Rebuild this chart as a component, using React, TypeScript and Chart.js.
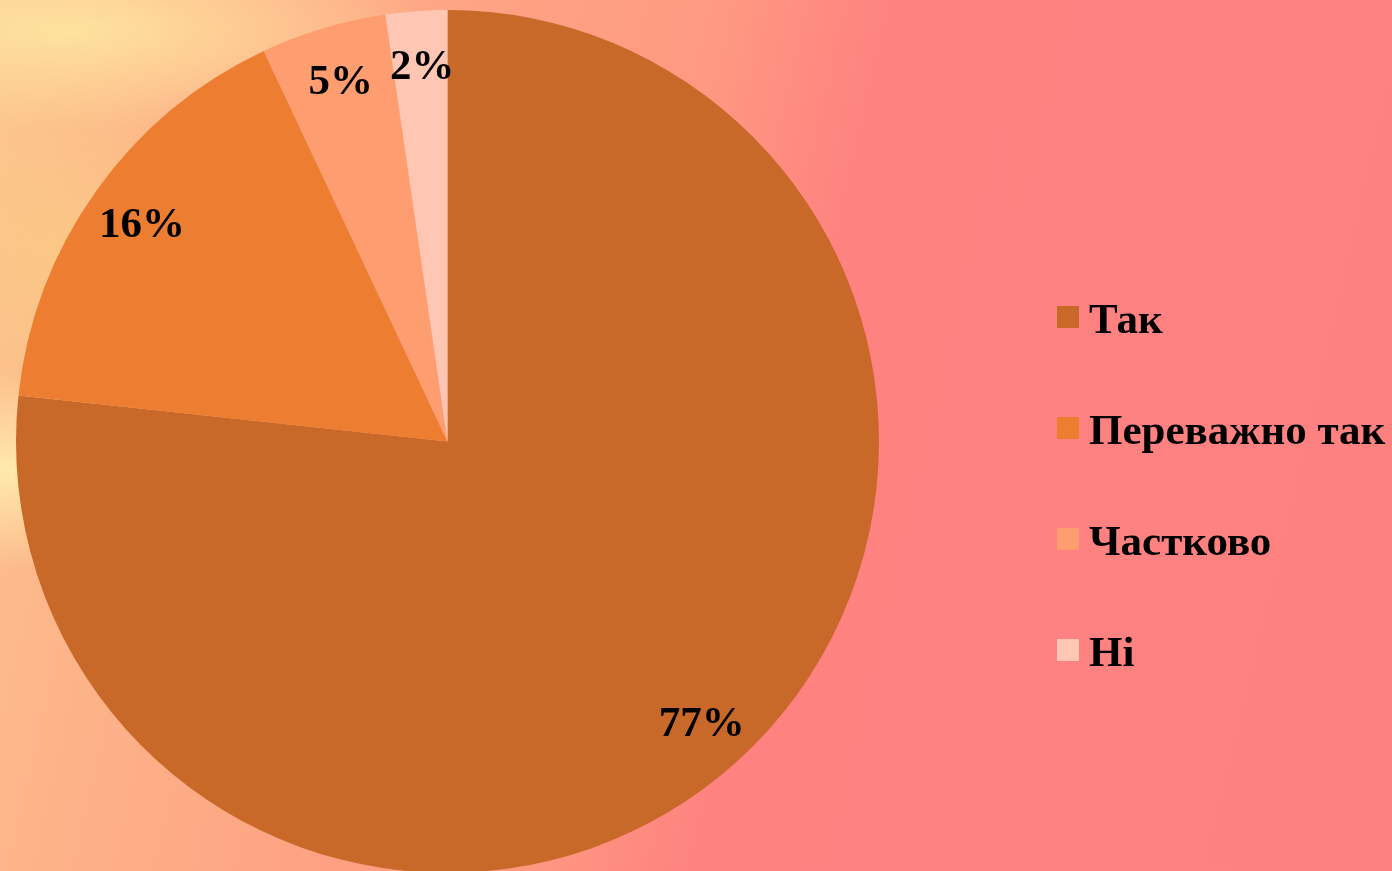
import React, { useEffect, useRef } from "react";
import { Chart, registerables } from "chart.js";

Chart.register(...registerables);

const categories: string[] = ["Так", "Переважно так", "Частково", "Ні"];
const values: number[] = [76.7, 16.3, 4.7, 2.3];
const sliceColors: string[] = ["#C8692A", "#ED7D31", "#FE9E70", "#FFC6B4"];

const FONT = "bold 43px 'Liberation Serif', 'Times New Roman', serif";

const labelPlugin = {
  id: "sliceLabels",
  afterDatasetsDraw(chart: any) {
    const ctx = chart.ctx;
    const meta = chart.getDatasetMeta(0);
    const data = chart.data.datasets[0].data as number[];
    const total = data.reduce((a: number, b: number) => a + b, 0);
    ctx.save();
    ctx.font = FONT;
    ctx.fillStyle = "#000";
    ctx.textAlign = "center";
    ctx.textBaseline = "middle";
    meta.data.forEach((arc: any, i: number) => {
      const p = arc.getProps(["x", "y", "startAngle", "endAngle", "outerRadius"], true);
      const mid = (p.startAngle + p.endAngle) / 2;
      const r = p.outerRadius * 0.875;
      const x = p.x + Math.cos(mid) * r;
      const y = p.y + Math.sin(mid) * r;
      const pct = Math.round((data[i] / total) * 100) + "%";
      ctx.fillText(pct, x + 2, y + 3);
    });
    ctx.restore();
  },
};

const legendPlugin = {
  id: "sideLegend",
  afterDraw(chart: any) {
    const ctx = chart.ctx;
    const labels = chart.data.labels as string[];
    const colors = chart.data.datasets[0].backgroundColor as string[];
    const x0 = 1057;
    const y0 = 317;
    const step = 111;
    ctx.save();
    ctx.font = FONT;
    ctx.textAlign = "left";
    ctx.textBaseline = "alphabetic";
    labels.forEach((lab, i) => {
      const cy = y0 + i * step;
      ctx.fillStyle = colors[i];
      ctx.fillRect(x0, cy - 11, 22, 22);
      ctx.fillStyle = "#000";
      ctx.fillText(lab, x0 + 32, cy + 16);
    });
    ctx.restore();
  },
};

export default function App() {
  const ref = useRef<HTMLCanvasElement | null>(null);

  useEffect(() => {
    if (!ref.current) return;
    const chart = new Chart(ref.current, {
      type: "pie",
      data: {
        labels: categories,
        datasets: [
          {
            data: values,
            backgroundColor: sliceColors,
            borderWidth: 0,
          },
        ],
      },
      options: {
        animation: false,
        responsive: false,
        maintainAspectRatio: false,
        layout: { padding: { left: 16, top: 10, right: 513, bottom: 7 } },
        plugins: {
          legend: { display: false },
          tooltip: { enabled: false },
        },
      },
      plugins: [labelPlugin, legendPlugin],
    });
    return () => chart.destroy();
  }, []);

  return (
    <div
      style={{
        position: "fixed",
        left: 0,
        top: 0,
        width: 1392,
        height: 871,
        overflow: "hidden",
        background: [
          "radial-gradient(ellipse 200px 100px at 10px 470px, rgba(255,238,175,0.9), rgba(255,238,175,0))",
          "radial-gradient(ellipse 360px 100px at 70px 30px, rgba(254,230,160,0.9), rgba(254,230,160,0))",
          "radial-gradient(ellipse 180px 180px at 60px 250px, rgba(250,205,130,0.6), rgba(250,205,130,0))",
          "linear-gradient(103deg, #FCC690 0px, #FDB589 200px, #FEA283 500px, #FE9A82 700px, #FE8C80 800px, #FE8280 880px, #FD8180 1552px)",
        ].join(","),
      }}
    >
      <canvas ref={ref} width={1392} height={880} style={{ display: "block" }} />
    </div>
  );
}
